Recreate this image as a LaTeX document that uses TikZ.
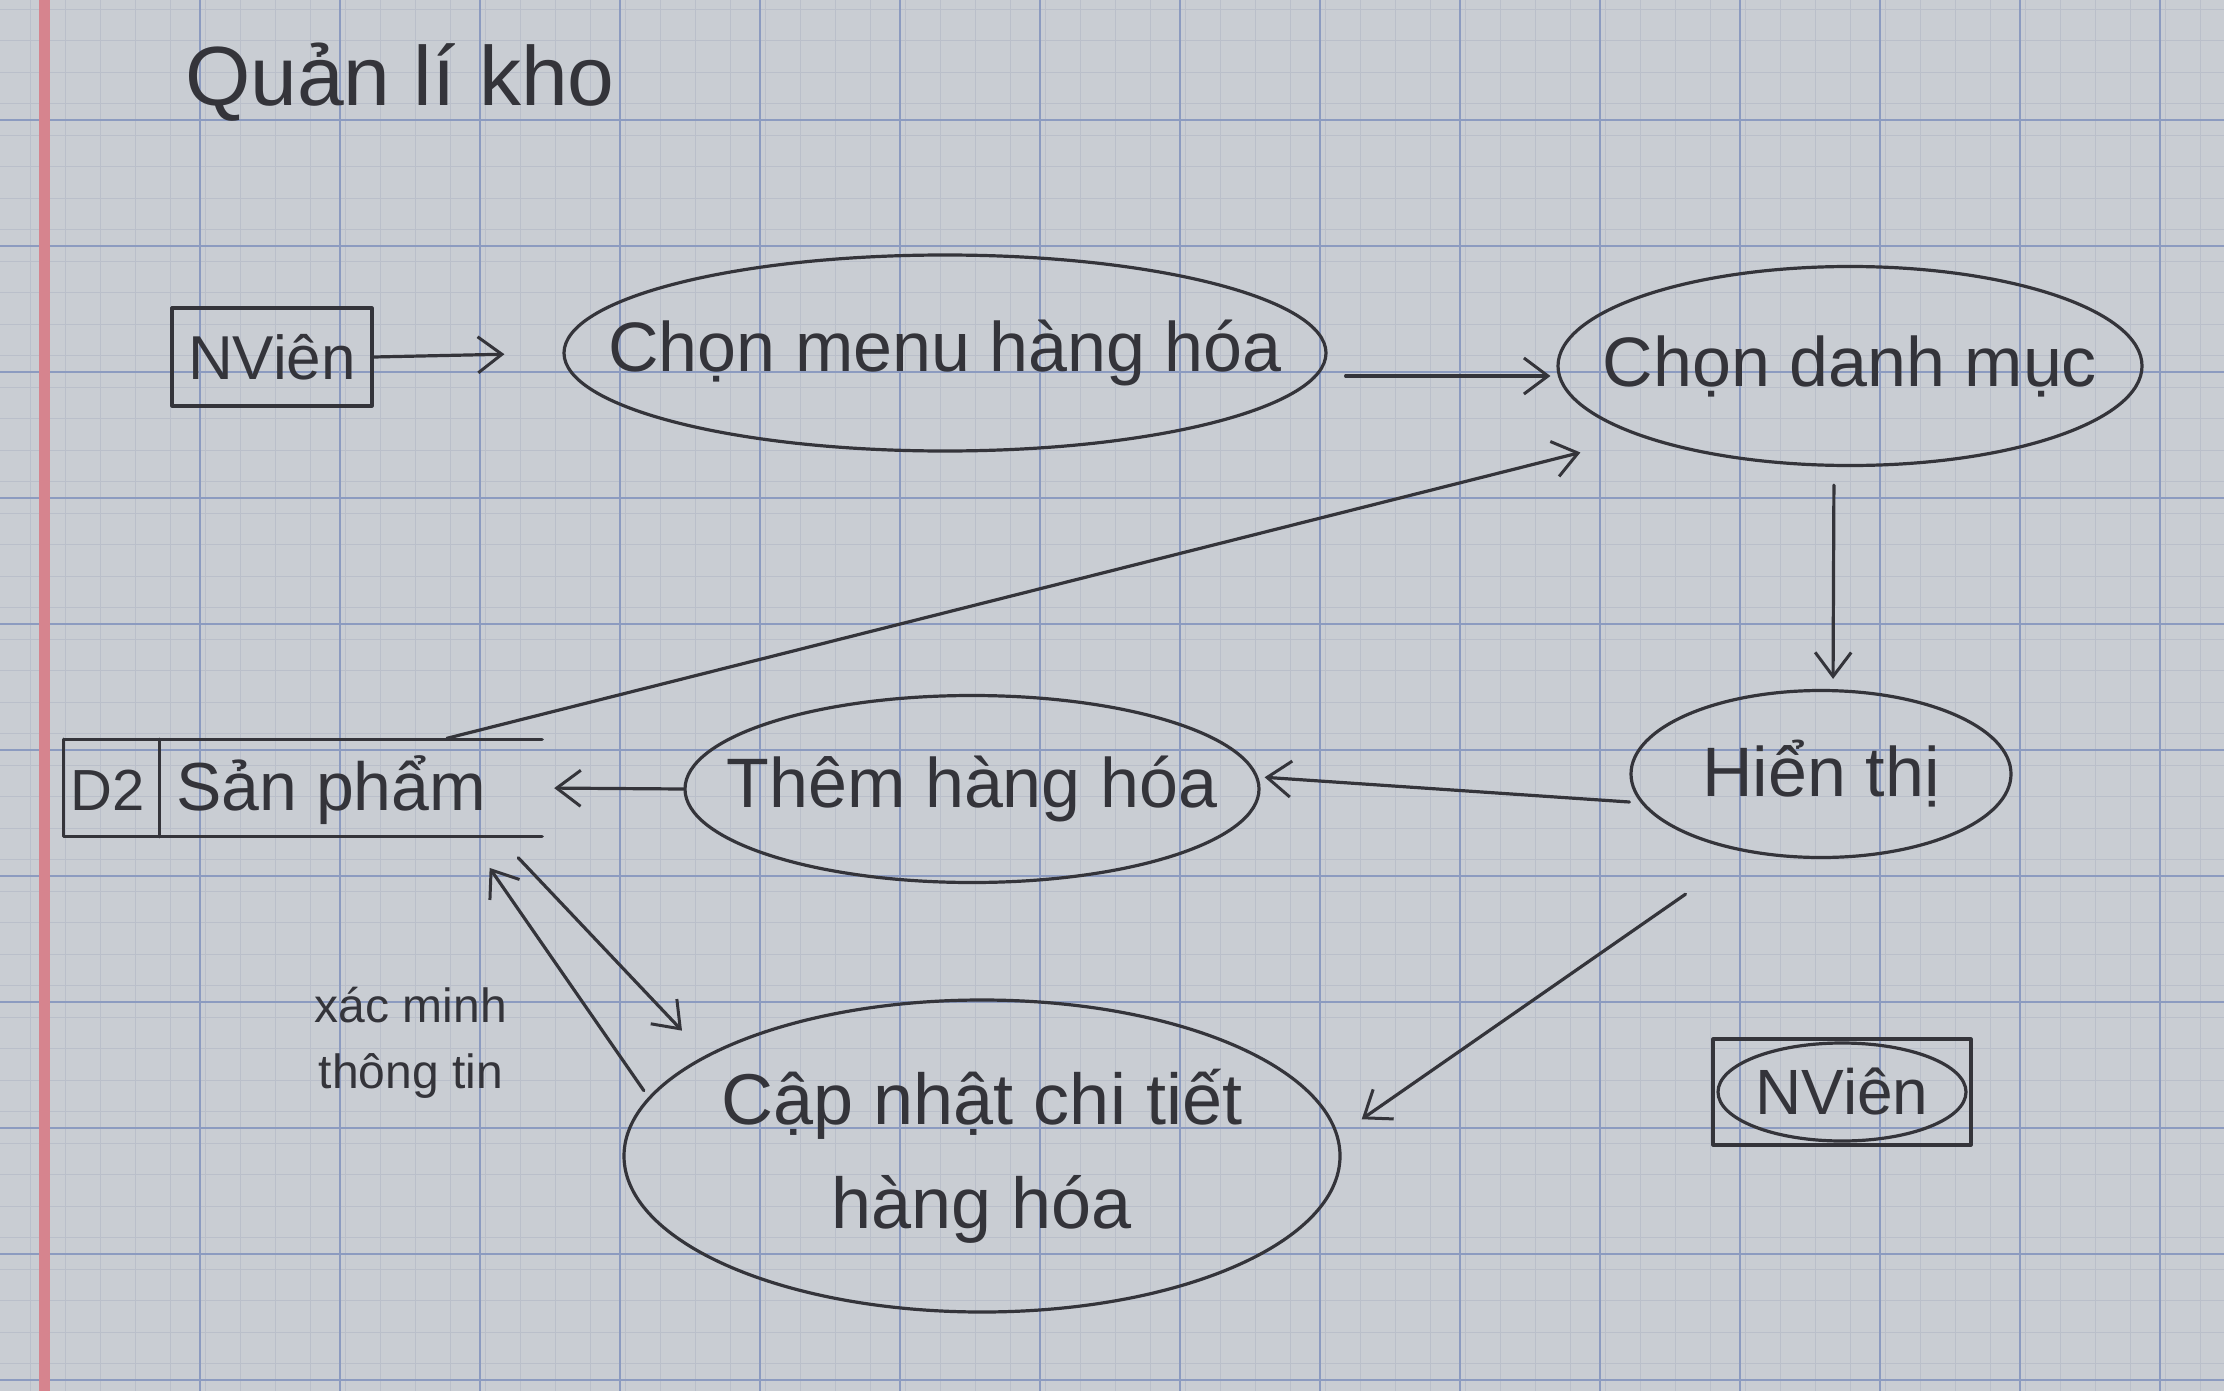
\documentclass[tikz,border=0pt]{standalone}
\usepackage{fontspec}
\setmainfont{Liberation Sans}
\usetikzlibrary{shapes.geometric,arrows.meta}
\definecolor{paper}{RGB}{201,205,211}
\definecolor{gridmaj}{RGB}{140,155,192}
\definecolor{gridmin}{RGB}{186,191,202}
\definecolor{margin}{RGB}{214,132,142}
\definecolor{ink}{RGB}{52,52,58}
\tikzset{
  ink/.style={draw=ink,line width=3.2pt,line cap=round,line join=round},
  proc/.style={ellipse,ink,inner sep=0pt},
  lab/.style={text=ink,inner sep=0pt,align=center,font=\fontsize{70}{100}\selectfont},
  extbox/.style={rectangle,ink,inner sep=4pt,text=ink,font=\fontsize{62}{70}\selectfont},
  txt/.style={text=ink,font=\fontsize{68}{78}\selectfont,inner sep=0pt},
  flow/.style={ink,-{Straight Barb[length=24pt,width=36pt,line width=3pt]}},
}
\begin{document}
\begin{tikzpicture}[x=1pt,y=-1pt]
% paper
\fill[paper] (0,0) rectangle (2224,1391);
\useasboundingbox (0,0) rectangle (2224,1391);
\foreach \x in {30,65,...,2224} \draw[gridmin,line width=0.6pt] (\x,0) -- (\x,1391);
\foreach \y in {9,40.5,...,1391} \draw[gridmin,line width=0.6pt] (0,\y) -- (2224,\y);
\foreach \x in {200,340,...,2224} \draw[gridmaj,line width=1.3pt] (\x,0) -- (\x,1391);
\foreach \y in {120,246,...,1391} \draw[gridmaj,line width=1.3pt] (0,\y) -- (2224,\y);
\draw[margin,line width=11pt] (44,0) -- (44,1391);

% title
\node[txt,font=\fontsize{84}{92}\selectfont] (title) at (400,82) {Quản lí kho};

% nodes
\node[extbox,minimum width=200pt,minimum height=98pt] (nv1) at (272,357) {NViên};
\node[proc,minimum width=762pt,minimum height=196pt,label={[lab]center:Chọn menu hàng hóa}] (menu) at (945,353) {};
\node[proc,minimum width=584pt,minimum height=199pt,label={[lab]center:Chọn danh mục}] (dm) at (1850,366) {};
\node[proc,minimum width=380pt,minimum height=167pt,label={[lab]center:Hiển thị}] (ht) at (1821,774) {};
\node[proc,minimum width=574pt,minimum height=187pt,label={[lab]center:Thêm hàng hóa}] (them) at (972,789) {};
\node[proc,minimum width=716pt,minimum height=312pt,label={[lab,font=\fontsize{72}{104}\selectfont]center:Cập nhật chi tiết\\hàng hóa}] (cn) at (982,1156) {};

% data store D2
\node[minimum width=478pt,minimum height=97pt,inner sep=0pt] (d2) at (303,788) {};
\node[txt,anchor=west,font=\fontsize{58}{66}\selectfont] (d2id) at (70,790) {D2};
\node[txt,anchor=west] (d2name) at (176,790) {Sản phẩm};
\draw[ink] (d2.north west) -- (d2.north east);
\draw[ink] (d2.north west) -- (d2.south west) -- (d2.south east);
\draw[ink] ([xshift=96pt]d2.north west) -- ([xshift=96pt]d2.south west);

% external entity (bottom)
\node[extbox,minimum width=258pt,minimum height=106pt] (nv2) at (1842,1092) {};
\node[proc,minimum width=248pt,minimum height=98pt,label={[lab,font=\fontsize{64}{70}\selectfont]center:NViên}] (nv2t) at (nv2.center) {};

% label
\node[txt,font=\fontsize{48}{66}\selectfont,align=center] (lbl) at (411,1043) {xác minh\\thông tin};

% flows
\draw[flow,shorten >=58pt] (nv1.east) -- (menu.west);
\draw[flow,shorten <=18pt,shorten >=6pt] ([yshift=-23pt]menu.east) -- ([yshift=-10pt]dm.west);
\draw[flow,shorten <=18pt,shorten >=10pt] ([xshift=-16pt]dm.south) -- ([xshift=12pt]ht.north);
\draw[flow,shorten >=4pt] ([yshift=-28pt]ht.west) -- ([yshift=12pt]them.east);
\draw[flow,shorten >=12pt] (them.west) -- (d2.east);
\draw[flow,shorten <=4pt] ([xshift=140pt]d2.north) -- ([xshift=-62pt,yshift=-15pt]dm.south west);
\draw[flow] ([yshift=-60pt]ht.south west) -- ([xshift=30pt]cn.6);
\draw[flow,shorten >=34pt] ([xshift=-24pt,yshift=-21pt]d2.south east) -- (cn.160);
\draw[flow,shorten <=8pt,shorten >=38pt] (cn.170) -- ([xshift=165pt]d2.south);
\end{tikzpicture}
\end{document}
